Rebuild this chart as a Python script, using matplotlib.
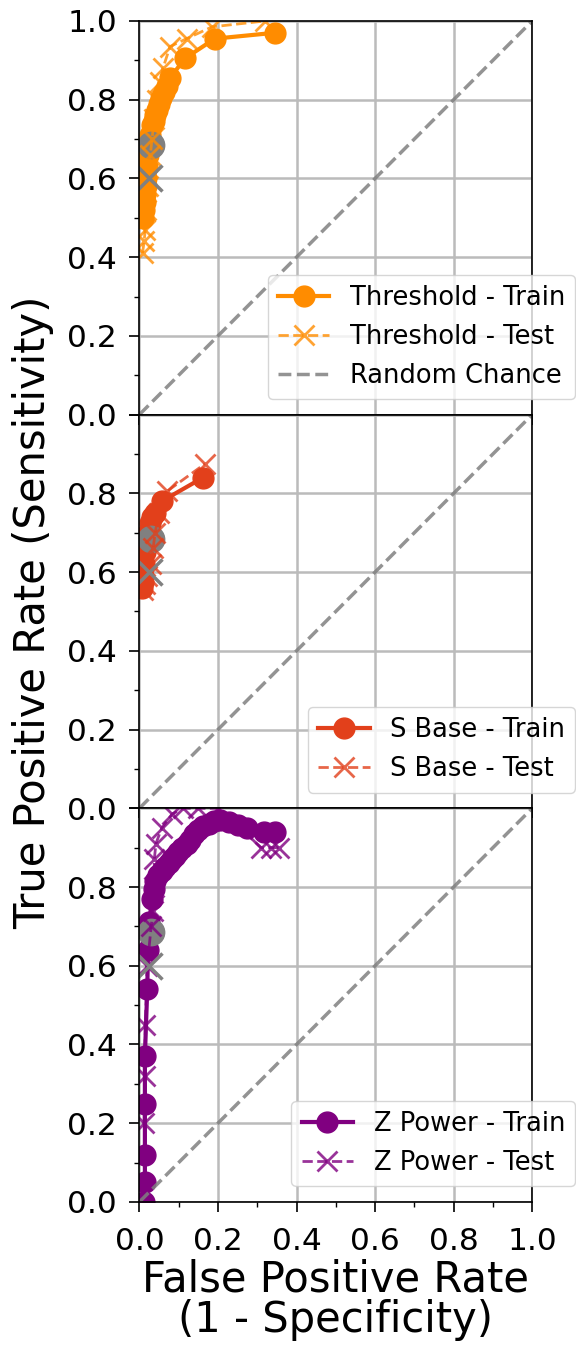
import numpy as np
import matplotlib
matplotlib.use("Agg")
from matplotlib import pyplot as plt
from matplotlib.ticker import AutoMinorLocator

# DATA
threshold_train_fpr = [0.010, 0.012, 0.014, 0.015, 0.017, 0.018, 0.020, 0.022, 0.025, 0.028, 0.032, 0.036, 0.040, 0.045, 0.050, 0.056, 0.062, 0.070, 0.078, 0.116, 0.192, 0.345]
threshold_train_tpr = [0.50, 0.52, 0.54, 0.56, 0.58, 0.60, 0.63, 0.66, 0.69, 0.71, 0.735, 0.745, 0.76, 0.775, 0.79, 0.805, 0.82, 0.835, 0.855, 0.905, 0.955, 0.97]
threshold_test_fpr = [0.008, 0.012, 0.015, 0.018, 0.022, 0.028, 0.032, 0.038, 0.045, 0.052, 0.060, 0.078, 0.120, 0.185, 0.320]
threshold_test_tpr = [0.41, 0.44, 0.47, 0.52, 0.58, 0.66, 0.70, 0.75, 0.80, 0.845, 0.88, 0.935, 0.955, 0.985, 1.0]

sbase_train_fpr = [0.007, 0.009, 0.010, 0.012, 0.015, 0.018, 0.022, 0.027, 0.033, 0.040, 0.057, 0.162]
sbase_train_tpr = [0.56, 0.575, 0.59, 0.62, 0.65, 0.68, 0.70, 0.725, 0.74, 0.75, 0.78, 0.84]
sbase_test_fpr = [0.010, 0.014, 0.020, 0.030, 0.035, 0.040, 0.050, 0.070, 0.167]
sbase_test_tpr = [0.555, 0.57, 0.59, 0.62, 0.66, 0.70, 0.75, 0.805, 0.875]

zpower_train_fpr = [0.012, 0.014, 0.014, 0.014, 0.014, 0.020, 0.022, 0.025, 0.032, 0.036, 0.040, 0.048, 0.057, 0.066, 0.075, 0.082, 0.090, 0.099, 0.108, 0.120, 0.130, 0.140, 0.150, 0.163, 0.177, 0.190, 0.205, 0.228, 0.250, 0.274, 0.317, 0.345]
zpower_train_tpr = [0.0, 0.05, 0.12, 0.25, 0.37, 0.54, 0.64, 0.71, 0.77, 0.795, 0.815, 0.83, 0.84, 0.85, 0.86, 0.87, 0.88, 0.89, 0.90, 0.91, 0.92, 0.935, 0.945, 0.955, 0.96, 0.967, 0.97, 0.965, 0.958, 0.95, 0.94, 0.94]
zpower_test_fpr = [0.012, 0.014, 0.015, 0.020, 0.030, 0.035, 0.037, 0.038, 0.042, 0.057, 0.083, 0.110, 0.150, 0.200, 0.310, 0.335, 0.355]
zpower_test_tpr = [0.20, 0.32, 0.45, 0.60, 0.70, 0.74, 0.80, 0.87, 0.91, 0.95, 0.985, 1.0, 1.0, 1.0, 0.90, 0.90, 0.90]

# operating point shown in every panel
point_train = (0.03, 0.685)
point_test = (0.025, 0.60)

panel_names = ["Threshold", "S Base", "Z Power"]
panel_colors = ["#FF8C00", "#E2401B", "#800080"]
panel_train = [(threshold_train_fpr, threshold_train_tpr), (sbase_train_fpr, sbase_train_tpr), (zpower_train_fpr, zpower_train_tpr)]
panel_test = [(threshold_test_fpr, threshold_test_tpr), (sbase_test_fpr, sbase_test_tpr), (zpower_test_fpr, zpower_test_tpr)]

fig, axes = plt.subplots(3, 1, sharex=True, figsize=(5.76, 13.52), dpi=100)
fig.subplots_adjust(left=0.242, right=0.924, top=0.9845, bottom=0.111, hspace=0)

for i, ax in enumerate(axes):
    name = panel_names[i]
    color = panel_colors[i]
    ax.plot(panel_train[i][0], panel_train[i][1], "-o", color=color, lw=3, markersize=15, label=name + " - Train")
    ax.plot(point_train[0], point_train[1], "o", color="gray", markersize=19)
    ax.plot(panel_test[i][0], panel_test[i][1], "--x", color=color, lw=2, markersize=15, mew=2, alpha=0.8, label=name + " - Test")
    ax.plot(point_test[0], point_test[1], "x", color="gray", markersize=19, mew=2.5)
    # random chance diagonal
    diag_label = "Random Chance" if i == 0 else None
    ax.plot([0, 1], [0, 1], "--", color="gray", lw=2.5, alpha=0.85, label=diag_label)

    ax.set_xlim(0, 1)
    ax.set_ylim(0, 1)
    ax.set_xticks(np.arange(0, 1.01, 0.2))
    ax.set_yticks(np.arange(0, 1.01, 0.2))
    ax.xaxis.set_minor_locator(AutoMinorLocator(2))
    ax.yaxis.set_minor_locator(AutoMinorLocator(2))
    ax.tick_params(which="major", labelsize=22.5, length=7, width=1.2, pad=9)
    ax.tick_params(axis="x", which="major", pad=11)
    ax.tick_params(which="minor", length=3.5, width=1.0)
    ax.grid(True, which="major", color="#bbbbbb", lw=1.8)
    for sp in ax.spines.values():
        sp.set_linewidth(1.2)
    if i > 0:
        ax.yaxis.get_major_ticks()[-1].label1.set_visible(False)

    ax.legend(loc="lower right", bbox_to_anchor=(1.11, 0.04), borderaxespad=0, fontsize=18.5)

axes[-1].set_xlabel("False Positive Rate\n(1 - Specificity)", fontsize=30, linespacing=0.95, labelpad=2)
fig.text(33 / 576, 0.547, "True Positive Rate (Sensitivity)", rotation=90, fontsize=30, ha="center", va="center")

plt.savefig("out.png", dpi=100)
